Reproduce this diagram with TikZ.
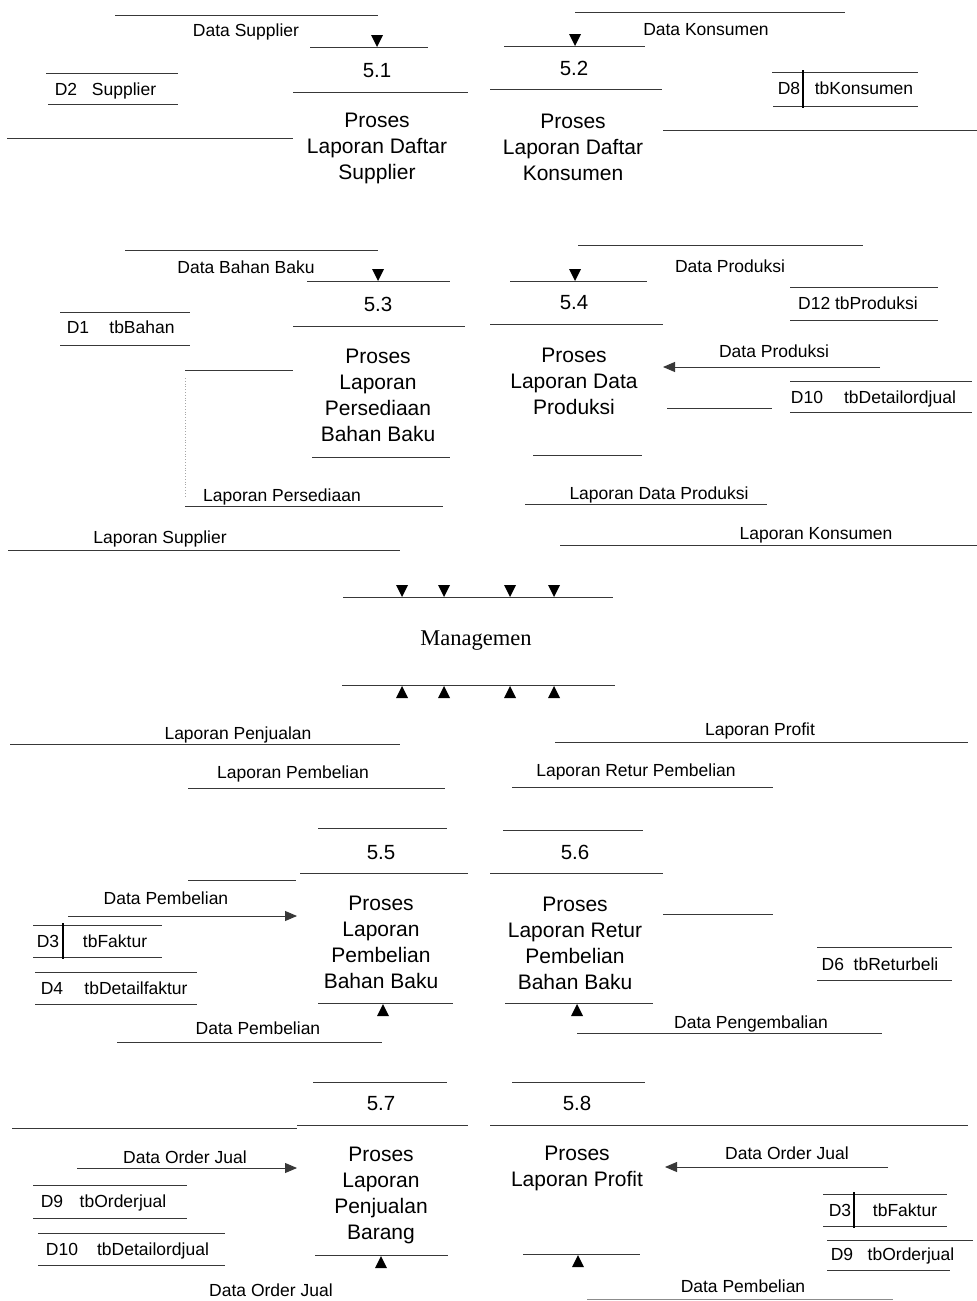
\documentclass[tikz,border=0pt]{standalone}
\usepackage{fontspec}
\setmainfont{Liberation Sans}
\newfontfamily\mgserif{Liberation Serif}
\usetikzlibrary{arrows.meta}
\tikzset{
  lbl/.style={font=\fontsize{17.5}{20}\selectfont, inner sep=0pt, text height=12.5pt, text depth=0pt},
  proc/.style={font=\fontsize{21}{26}\selectfont, align=center, inner sep=0pt},
  num/.style={font=\fontsize{20.5}{24}\selectfont, inner sep=0pt, text height=14.5pt, text depth=0pt},
  ln/.style={draw=black!78, line width=0.9pt},
  bar/.style={draw=black, line width=1.6pt},
  arr/.style={ln, -{Triangle[length=12pt,width=10pt]}},
  faint/.style={draw=black!35, line width=0.8pt, dotted},
}
\newcommand\dnarr[2]{\fill (#1-6,#2-12) -- (#1+6,#2-12) -- (#1,#2) -- cycle;}
\newcommand\uparr[2]{\fill (#1-6,#2+13) -- (#1+6,#2+13) -- (#1,#2+1) -- cycle;}
\newcommand\hl[3]{\draw[ln] (#1,#3) -- (#2,#3);}
\begin{document}
\begin{tikzpicture}[x=1pt,y=-1pt]
\useasboundingbox (0,0) rectangle (977,1301);
% ---------------- top: 5.1 / 5.2
\hl{115}{378}{15} \hl{575}{845}{12}
\hl{310}{428}{47} \hl{504}{645}{46}
\hl{293}{468}{92} \hl{490}{662}{89}
\hl{46}{178}{73} \hl{48}{178}{104}
\hl{7}{293}{138}
\hl{772}{918}{72} \hl{773}{918}{106}
\draw[bar] (803,70) -- (803,108);
\hl{663}{977}{130}
\dnarr{377}{47} \dnarr{575}{46}
\node[lbl] (dsup) at (246,30) {Data Supplier};
\node[lbl] (dkon) at (706,29) {Data Konsumen};
\node[num] (n51) at (377,70) {5.1};
\node[num] (n52) at (574,68) {5.2};
\node[lbl] (d2) at (66,89) {D2};
\node[lbl] (d2t) at (124,89) {Supplier};
\node[lbl] (d8) at (789,88) {D8};
\node[lbl] (d8t) at (864,88) {tbKonsumen};
\node[proc] (p51) at (377,148) {Proses\\Laporan Daftar\\Supplier};
\node[proc] (p52) at (573,147) {Proses\\Laporan Daftar\\Konsumen};
% ---------------- 5.3 / 5.4
\hl{125}{378}{250} \hl{578}{863}{245}
\hl{307}{450}{281} \hl{510}{647}{281}
\hl{293}{465}{326} \hl{490}{663}{324}
\hl{60}{190}{312} \hl{60}{190}{345}
\hl{790}{938}{287} \hl{790}{938}{320}
\hl{185}{293}{370}
\draw[faint] (185,378) -- (185,498);
\coordinate (dpsrc) at (880,367);
\coordinate (dpdst) at (663,367);
\draw[arr] (dpsrc) -- (dpdst);
\hl{790}{972}{381} \hl{790}{972}{412}
\hl{667}{772}{408}
\hl{312}{450}{457} \hl{533}{642}{455}
\hl{185}{443}{506} \hl{525}{767}{504}
\hl{8}{400}{550} \hl{560}{977}{545}
\dnarr{378}{281} \dnarr{575}{281}
\node[lbl] (dbb) at (246,267) {Data Bahan Baku};
\node[lbl] (dprod) at (730,266) {Data Produksi};
\node[num] (n53) at (378,304) {5.3};
\node[num] (n54) at (574,302) {5.4};
\node[lbl] (d1) at (78,327) {D1};
\node[lbl] (d1t) at (142,327) {tbBahan};
\node[lbl] (d12) at (858,303) {D12 tbProduksi};
\node[lbl] (dprod2) at (774,351) {Data Produksi};
\node[lbl] (d10a) at (807,397) {D10};
\node[lbl] (d10at) at (900,397) {tbDetailordjual};
\node[proc] (p53) at (378,395) {Proses\\Laporan\\Persediaan\\Bahan Baku};
\node[proc] (p54) at (574,381) {Proses\\Laporan Data\\Produksi};
\node[lbl] (lpers) at (282,495) {Laporan Persediaan};
\node[lbl] (ldp) at (659,493) {Laporan Data Produksi};
\node[lbl] (lsup) at (160,537) {Laporan Supplier};
\node[lbl] (lkon) at (816,533) {Laporan Konsumen};
% ---------------- Managemen
\hl{343}{613}{597} \hl{342}{615}{685}
\foreach \xx in {402,444,510,554} {\dnarr{\xx}{597} \uparr{\xx}{685}}
\node[font=\mgserif\fontsize{22.5}{26}\selectfont, inner sep=0pt] (mgm) at (476,641) {Managemen};
% ---------------- 5.5 / 5.6
\hl{10}{400}{744} \hl{555}{968}{742}
\hl{188}{445}{788} \hl{512}{773}{787}
\hl{318}{447}{828} \hl{503}{643}{830}
\hl{300}{468}{873} \hl{490}{663}{873}
\hl{188}{296}{880}
\coordinate (dpbsrc) at (68,916);
\coordinate (dpbdst) at (297,916);
\draw[arr] (dpbsrc) -- (dpbdst);
\hl{33}{162}{925} \hl{33}{162}{957}
\draw[bar] (63,923) -- (63,959);
\hl{35}{197}{972} \hl{35}{197}{1004}
\hl{663}{773}{914}
\hl{817}{952}{947} \hl{817}{952}{980}
\hl{318}{453}{1003} \hl{505}{653}{1003}
\hl{117}{382}{1042} \hl{577}{882}{1033}
\uparr{383}{1003} \uparr{577}{1003}
\node[lbl] (lpenj) at (238,733) {Laporan Penjualan};
\node[lbl] (lprof) at (760,729) {Laporan Profit};
\node[lbl] (lpemb) at (293,772) {Laporan Pembelian};
\node[lbl] (lret) at (636,770) {Laporan Retur Pembelian};
\node[num] (n55) at (381,852) {5.5};
\node[num] (n56) at (575,852) {5.6};
\node[lbl] (dpb1) at (166,898) {Data Pembelian};
\node[lbl] (d3a) at (48,941) {D3};
\node[lbl] (d3at) at (115,941) {tbFaktur};
\node[lbl] (d4) at (52,988) {D4};
\node[lbl] (d4t) at (136,988) {tbDetailfaktur};
\node[proc] (p55) at (381,942) {Proses\\Laporan\\Pembelian\\Bahan Baku};
\node[proc] (p56) at (575,943) {Proses\\Laporan Retur\\Pembelian\\Bahan Baku};
\node[lbl] (d6) at (880,964) {D6\ \ tbReturbeli};
\node[lbl] (dpb2) at (258,1028) {Data Pembelian};
\node[lbl] (dpeng) at (751,1022) {Data Pengembalian};
% ---------------- 5.7 / 5.8
\hl{313}{447}{1082} \hl{512}{645}{1082}
\hl{12}{297}{1128} \hl{297}{468}{1125} \hl{490}{968}{1125}
\coordinate (doj1src) at (77,1168);
\coordinate (doj1dst) at (297,1168);
\draw[arr] (doj1src) -- (doj1dst);
\coordinate (doj2src) at (888,1167);
\coordinate (doj2dst) at (665,1167);
\draw[arr] (doj2src) -- (doj2dst);
\hl{33}{187}{1185} \hl{33}{187}{1218}
\hl{38}{225}{1233} \hl{38}{225}{1265}
\hl{823}{947}{1194} \hl{823}{947}{1226}
\draw[bar] (854,1192) -- (854,1228);
\hl{827}{973}{1240} \hl{827}{950}{1270}
\hl{315}{448}{1255} \hl{523}{640}{1254}
\draw[draw=black!45, line width=0.8pt] (587,1299) -- (893,1299);
\uparr{381}{1255} \uparr{578}{1254}
\node[num] (n57) at (381,1103) {5.7};
\node[num] (n58) at (577,1103) {5.8};
\node[lbl] (doj1) at (185,1157) {Data Order Jual};
\node[lbl] (d9a) at (52,1201) {D9};
\node[lbl] (d9at) at (123,1201) {tbOrderjual};
\node[lbl] (d10b) at (62,1249) {D10};
\node[lbl] (d10bt) at (153,1249) {tbDetailordjual};
\node[proc] (p57) at (381,1195) {Proses\\Laporan\\Penjualan\\Barang};
\node[proc] (p58) at (577,1168) {Proses\\Laporan Profit};
\node[lbl] (doj2) at (787,1153) {Data Order Jual};
\node[lbl] (d3b) at (840,1210) {D3};
\node[lbl] (d3bt) at (905,1210) {tbFaktur};
\node[lbl] (d9b) at (842,1254) {D9};
\node[lbl] (d9bt) at (911,1254) {tbOrderjual};
\node[lbl] (doj3) at (271,1290) {Data Order Jual};
\node[lbl] (dpb3) at (743,1286) {Data Pembelian};
\end{tikzpicture}
\end{document}
